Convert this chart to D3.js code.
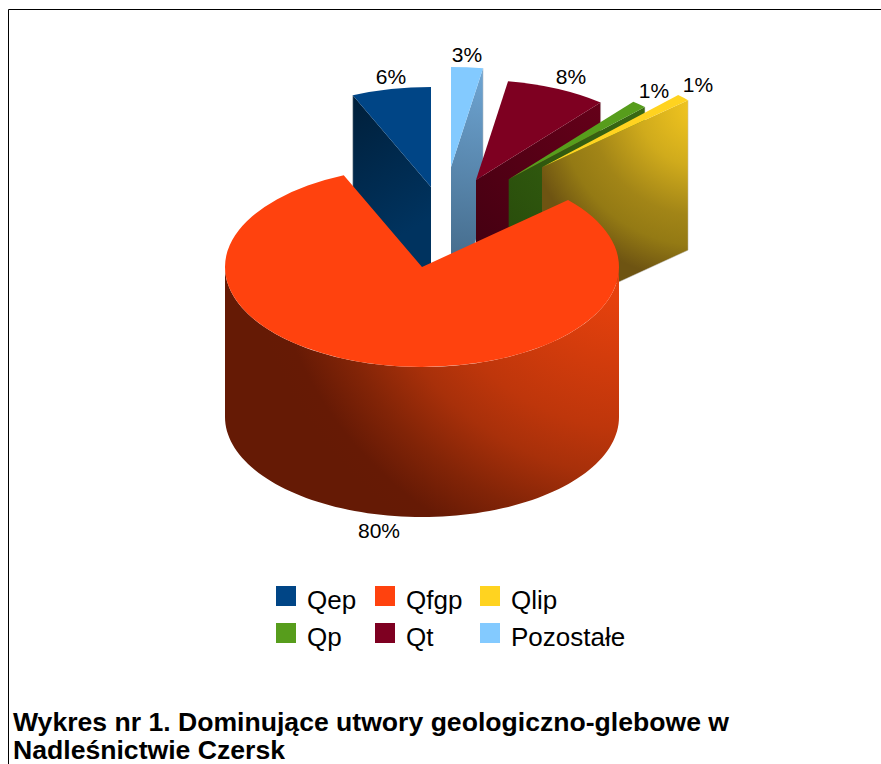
<!DOCTYPE html>
<html><head><meta charset="utf-8">
<style>html,body{margin:0;padding:0;background:#fff}svg{display:block}text{font-family:"Liberation Sans",Arial,sans-serif;fill:#000}</style>
<script src="https://cdn.jsdelivr.net/npm/d3@7"></script>
</head><body><svg id="c" width="881" height="764"></svg>
<script>
// data (counter-clockwise from 12 o'clock, as drawn)
const categories = ["Qep","Qfgp","Qlip","Qp","Qt","Pozostałe"];
const shares = [6.5,80.2,1.14,1.25,8.3,2.6];
const shareLabels = ["6%","80%","1%","1%","8%","3%"];
const titleLines = ["Wykres nr 1. Dominujące utwory geologiczno-glebowe w","Nadleśnictwie Czersk"];
// styling / layout
const colors = {Qep:"#004586",Qfgp:"#ff420e",Qlip:"#ffd320",Qp:"#579d1c",Qt:"#7e0021","Pozostałe":"#83caff"};
const center = {x:422,y:267}, rx=197, ry=100, depth=150;
const shift = {Qep:[9,-80],Qfgp:[0,0],Qlip:[120,-99.7],Qp:[86.7,-87.7],Qt:[54,-87],"Pozostałe":[29,-100]};
const labelPos = {Qep:[391,84],Qfgp:[379,538],Qlip:[698,92],Qp:[654,98],Qt:[571,84],"Pozostałe":[467,62]};
const drawOrder = ["Qep","Pozostałe","Qt","Qp","Qlip","Qfgp"];
const svg = d3.select("#c");
const defs = svg.append("defs");
function radial(id,cx,cy,r,stops){
  const g=defs.append("radialGradient").attr("id",id).attr("gradientUnits","userSpaceOnUse")
    .attr("cx",cx).attr("cy",cy).attr("r",r);
  stops.forEach(s=>g.append("stop").attr("offset",s[0]).attr("stop-color",s[1]));
}
// wall paints, relative to each slice's apex
const wallPaint = {
  "Pozostałe":[33,-100,240,[[0,"#6fa6d4"],[1,"#3c5f7c"]]],
  Qt:[125,-78,230,[[0,"#650019"],[1,"#3e0010"]]],
  Qp:[136,-72,230,[[0,"#3a6a14"],[1,"#254609"]]],
  Qlip:[158,-62,175,[[0.05,"#f0c41f"],[0.35,"#d0ab1c"],[0.63,"#a28517"],[0.8,"#947a14"],[1,"#6e5412"]]]
};
// border
svg.append("path").attr("d",d3.line()([[8.5,764],[8.5,9.5],[881,9.5]])).attr("fill","none").attr("stroke","#000");

const pie = d3.pie().sort(null).value(d=>d.v).startAngle(0).endAngle(-2*Math.PI);
const arcs = pie(categories.map((c,i)=>({c,v:shares[i],l:shareLabels[i]})));
const byName = Object.fromEntries(arcs.map(a=>[a.data.c,a]));
const arcGen = d3.arc().innerRadius(0).outerRadius(rx);
const px = (a,o)=>o[0]+rx*Math.sin(a), py=(a,o)=>o[1]-ry*Math.cos(a);
const line = d3.line();
const edge = "#c4c4c4";

drawOrder.forEach(name=>{
  const a = byName[name], s = shift[name];
  const o = [center.x+s[0], center.y+s[1]];
  const g = svg.append("g");
  if(name==="Qfgp"){
    const angs = d3.range(0,91).map(i=>Math.PI/2+i/90*Math.PI);
    const top = angs.map(t=>[px(t,o),py(t,o)]);
    const bot = angs.map(t=>[px(t,o),py(t,o)+depth]).reverse();
    radial("sideQfgp",o[0]+218,o[1]-67,400,[[0.25,"#e6410d"],[0.575,"#be360b"],[0.69,"#a8300a"],[0.825,"#822407"],[0.94,"#661a05"],[1,"#651a05"]]);
    g.append("path").attr("d",line(top.concat(bot))+"Z").attr("fill","url(#sideQfgp)");
  } else {
    // cut wall facing the viewer: rim point, apex, then dropped by the depth
    const useT = name==="Qep" ? Math.min(a.startAngle,a.endAngle) : Math.max(a.startAngle,a.endAngle);
    const rim = [px(useT,o),py(useT,o)];
    const wall = [rim,[o[0],o[1]],[o[0],o[1]+depth],[rim[0],rim[1]+depth]];
    const id="wall"+categories.indexOf(name);
    if(name==="Qep"){
      const lg=defs.append("linearGradient").attr("id",id).attr("gradientUnits","userSpaceOnUse")
        .attr("x1",o[0]).attr("y1",o[1]+30).attr("x2",rim[0]).attr("y2",rim[1]);
      lg.append("stop").attr("offset",0).attr("stop-color","#00335f");
      lg.append("stop").attr("offset",1).attr("stop-color","#001f3a");
    } else {
      const w=wallPaint[name];
      radial(id,o[0]+w[0],o[1]+w[1],w[2],w[3]);
    }
    g.append("path").attr("d",line(wall)+"Z").attr("fill",`url(#${id})`);
    g.append("path").attr("d",line([rim,[rim[0],rim[1]+depth],[o[0],o[1]+depth]])).attr("fill","none")
      .attr("stroke",edge).attr("stroke-opacity",.6).attr("stroke-width",.8);
  }
  g.append("path").attr("transform",`translate(${o[0]},${o[1]}) scale(1,${ry/rx})`)
    .attr("d",arcGen(a)).attr("fill",colors[name]);
});

// percent labels
arcs.forEach(a=>{
  const p=labelPos[a.data.c];
  svg.append("text").attr("x",p[0]).attr("y",p[1]).attr("text-anchor","middle").attr("font-size",21).text(a.data.l);
});
// legend
const colX=[276,375,480], rowY=[586,623], baseY=[608.5,646];
categories.forEach((n,i)=>{
  const r=Math.floor(i/3), cx=colX[i%3];
  svg.append("rect").attr("x",cx).attr("y",rowY[r]).attr("width",20).attr("height",20).attr("fill",colors[n]);
  svg.append("text").attr("x",cx+31).attr("y",baseY[r]).attr("font-size",26).text(n);
});
// caption
const titleY=[730.5,758.6], titleW=[716,272];
titleLines.forEach((t,i)=>{
  svg.append("text").attr("x",13).attr("y",titleY[i]).attr("font-size",25)
    .attr("textLength",titleW[i]).attr("lengthAdjust","spacingAndGlyphs")
    .attr("font-weight","bold").text(t);
});
</script></body></html>
